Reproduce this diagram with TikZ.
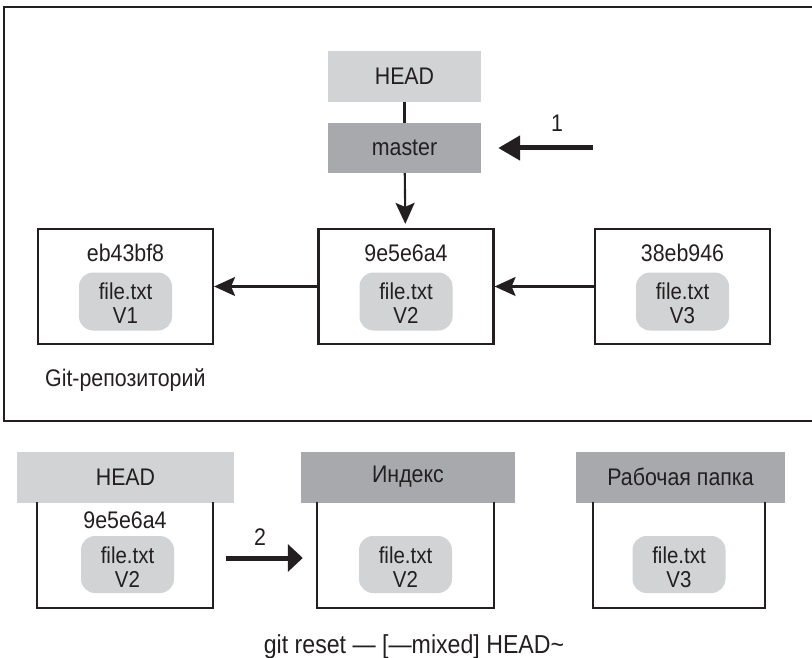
\documentclass[tikz,border=0pt]{standalone}
\usepackage{fontspec}
\setmainfont{Liberation Sans}[FakeStretch=0.89]
\usetikzlibrary{arrows.meta}
\definecolor{lightg}{HTML}{D1D3D4}
\definecolor{darkg}{HTML}{A7A9AC}
\definecolor{ink}{HTML}{231F20}
\begin{document}
\begin{tikzpicture}[x=1pt,y=-1pt,
  font=\fontsize{24}{22}\selectfont, text=ink,
  frame/.style={draw=ink, line width=2.5pt},
  commit/.style={draw=ink, line width=2.2pt, minimum width=175pt, minimum height=115pt, inner sep=0pt},
  openbox/.style={minimum height=106pt, inner sep=0pt},
  boxside/.style={draw=ink, line width=2.2pt},
  blob/.style={fill=lightg, rounded corners=14pt, minimum width=93pt, minimum height=58pt, inner sep=0pt},
  lighthdr/.style={fill=lightg, minimum height=51pt, inner sep=0pt},
  darkhdr/.style={fill=darkg, minimum height=51pt, inner sep=0pt},
  thin/.style={draw=ink, line width=2.1pt},
  thinarrow/.style={thin, -{Stealth[length=21pt,width=19pt,inset=4pt]}},
  fatarrow/.style={draw=ink, line width=5pt},
  plain/.style={inner sep=0pt},
  line/.style={inner sep=0pt, anchor=base, font=\fontsize{23}{23}\selectfont}
]
\useasboundingbox (0,0) rectangle (812,658);

% repository frame (open to the right)
\draw[frame] (814,7) -- (4,7) -- (4,421) -- (814,421);

% HEAD / master
\node[lighthdr, minimum width=153pt] (headtop) at (404.5,76.5) {HEAD};
\node[darkhdr, minimum width=153pt, minimum height=50pt] (master) at (404.5,148) {master};
\draw[thin] (headtop) -- (master);

% commits
\node[commit] (c1) at (125.5,286.5) {};
\node[commit] (c2) at (406,286.5) {};
\node[commit] (c3) at (682.5,286.5) {};
\node[plain] (h1) at (125.5,253) {eb43bf8};
\node[plain] (h2) at (406,253) {9e5e6a4};
\node[plain] (h3) at (682.5,253) {38eb946};
\node[blob] (f1) at (125.5,301.5) {};
\node[blob] (f2) at (406,301.5) {};
\node[blob] (f3) at (682.5,301.5) {};
\node[line] (f1a) at (125.5,299) {file.txt};
\node[line] (f1b) at (125.5,323) {V1};
\node[line] (f2a) at (406,299) {file.txt};
\node[line] (f2b) at (406,323) {V2};
\node[line] (f3a) at (682.5,299) {file.txt};
\node[line] (f3b) at (682.5,323) {V3};

\draw[thinarrow, shorten >=4pt] (master) -- (c2);
\draw[thinarrow] (c2.west) -- (c1.east);
\draw[thinarrow] (c3.west) -- (c2.east);

% arrow 1
\coordinate (a1) at (593,148);
\draw[fatarrow, -{Triangle[length=22pt,width=24pt]}, shorten >=17pt] (a1) -- (master.east);
\node[plain] (n1) at (557,123) {1};

\node[plain, anchor=west] (repo) at (45,380) {Git-репозиторий};

% bottom row
\node[lighthdr, minimum width=217pt] (bh1) at (125.5,477) {HEAD};
\node[darkhdr, minimum width=214pt] (bh2) at (408,477) {Индекс};
\node[darkhdr, minimum width=209pt] (bh3) at (680.5,477) {Рабочая папка};

\node[openbox, minimum width=176pt] (b1) at (125,555) {};
\node[openbox, minimum width=177pt] (b2) at (405.5,555) {};
\node[openbox, minimum width=172pt] (b3) at (679,555) {};
\foreach \b in {b1,b2,b3}
  \draw[boxside] (\b.north west) -- (\b.south west) -- (\b.south east) -- (\b.north east);

\node[plain] (bh) at (125,520) {9e5e6a4};
\node[blob, minimum height=57pt] (g1) at (127.5,564.5) {};
\node[blob, minimum height=57pt] (g2) at (405.5,564.5) {};
\node[blob, minimum height=57pt] (g3) at (679,564.5) {};
\node[line] (g1a) at (127.5,563) {file.txt};
\node[line] (g1b) at (127.5,587) {V2};
\node[line] (g2a) at (405.5,563) {file.txt};
\node[line] (g2b) at (405.5,587) {V2};
\node[line] (g3a) at (679,563) {file.txt};
\node[line] (g3b) at (679,587) {V3};

% arrow 2
\coordinate (a2) at (226,558);
\draw[fatarrow, -{Triangle[length=15pt,width=27pt]}, shorten >=14pt] (a2) -- (a2 -| b2.west);
\node[plain] (n2) at (260,537) {2};

\node[plain, font=\fontsize{26}{26}\selectfont] (cap) at (414,647) {git reset — [—mixed] HEAD\textasciitilde};
\end{tikzpicture}
\end{document}
